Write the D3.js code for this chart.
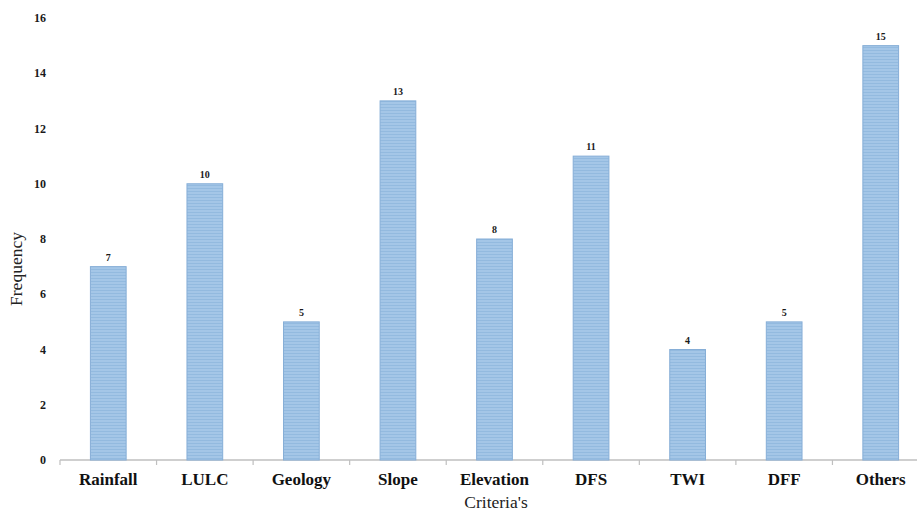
<!DOCTYPE html>
<html>
<head>
<meta charset="utf-8">
<script src="https://cdn.jsdelivr.net/npm/d3@7"></script>
<style>
  html, body { margin: 0; padding: 0; background: #fff; }
  svg { display: block; }
</style>
</head>
<body>
<svg id="chart" width="917" height="514"></svg>
<script>
const categories = ["Rainfall", "LULC", "Geology", "Slope", "Elevation", "DFS", "TWI", "DFF", "Others"];
const frequency = [7, 10, 5, 13, 8, 11, 4, 5, 15];
const yTicks = [0, 2, 4, 6, 8, 10, 12, 14, 16];

const svg = d3.select("#chart");
const margin = { left: 60, right: -12, top: 18, bottom: 54 };
const W = 917, H = 514;
const serif = "'Liberation Serif', 'Times New Roman', serif";

const x = d3.scaleBand()
  .domain(categories)
  .range([margin.left, W - margin.right])
  .paddingInner(0.63)
  .paddingOuter(0.315);

const y = d3.scaleLinear()
  .domain([0, 16])
  .range([H - margin.bottom, margin.top]);

// striped bar fill
const defs = svg.append("defs");
const pat = defs.append("pattern")
  .attr("id", "stripes")
  .attr("patternUnits", "userSpaceOnUse")
  .attr("width", 8).attr("height", 3);
pat.append("rect").attr("width", 8).attr("height", 3).attr("fill", "#a4c6e7");
pat.append("rect").attr("y", 2).attr("width", 8).attr("height", 1).attr("fill", "#93badf");

// x axis line with ticks between categories
const band = x.step();
const baseY = y(0);
svg.append("line")
  .attr("x1", margin.left).attr("x2", W)
  .attr("y1", baseY).attr("y2", baseY)
  .attr("stroke", "#bfbfbf").attr("stroke-width", 1.5);
const tickXs = d3.range(categories.length + 1).map(i => margin.left + i * band);
svg.selectAll(".xtick").data(tickXs).enter().append("line")
  .attr("x1", d => d).attr("x2", d => d)
  .attr("y1", baseY).attr("y2", baseY + 5)
  .attr("stroke", "#bfbfbf").attr("stroke-width", 1.2);

// bars
svg.selectAll(".bar").data(categories).enter().append("rect")
  .attr("x", d => x(d))
  .attr("width", x.bandwidth())
  .attr("y", (d, i) => y(frequency[i]))
  .attr("height", (d, i) => y(0) - y(frequency[i]))
  .attr("fill", "url(#stripes)")
  .attr("stroke", "#86aed7").attr("stroke-width", 1);

// value labels
svg.selectAll(".val").data(categories).enter().append("text")
  .attr("x", d => x(d) + x.bandwidth() / 2)
  .attr("y", (d, i) => y(frequency[i]) - 6)
  .attr("text-anchor", "middle")
  .attr("font-family", serif)
  .attr("font-weight", "bold")
  .attr("font-size", 10)
  .attr("fill", "#1a1a1a")
  .text((d, i) => frequency[i]);

// y tick labels
svg.selectAll(".ytick").data(yTicks).enter().append("text")
  .attr("x", 46)
  .attr("y", d => y(d))
  .attr("dy", "0.35em")
  .attr("text-anchor", "end")
  .attr("font-family", serif)
  .attr("font-weight", "bold")
  .attr("font-size", 12)
  .attr("fill", "#1a1a1a")
  .text(d => d);

// category labels
svg.selectAll(".cat").data(categories).enter().append("text")
  .attr("x", d => x(d) + x.bandwidth() / 2)
  .attr("y", baseY + 25)
  .attr("text-anchor", "middle")
  .attr("font-family", serif)
  .attr("font-weight", "bold")
  .attr("font-size", 17)
  .attr("fill", "#111")
  .text(d => d);

// axis titles
svg.append("text")
  .attr("x", 496).attr("y", 508)
  .attr("text-anchor", "middle")
  .attr("font-family", serif)
  .attr("font-size", 17.5)
  .attr("fill", "#222")
  .text("Criteria's");

svg.append("text")
  .attr("transform", "translate(22,269) rotate(-90)")
  .attr("text-anchor", "middle")
  .attr("font-family", serif)
  .attr("font-size", 17.5)
  .attr("fill", "#222")
  .text("Frequency");
</script>
</body>
</html>
